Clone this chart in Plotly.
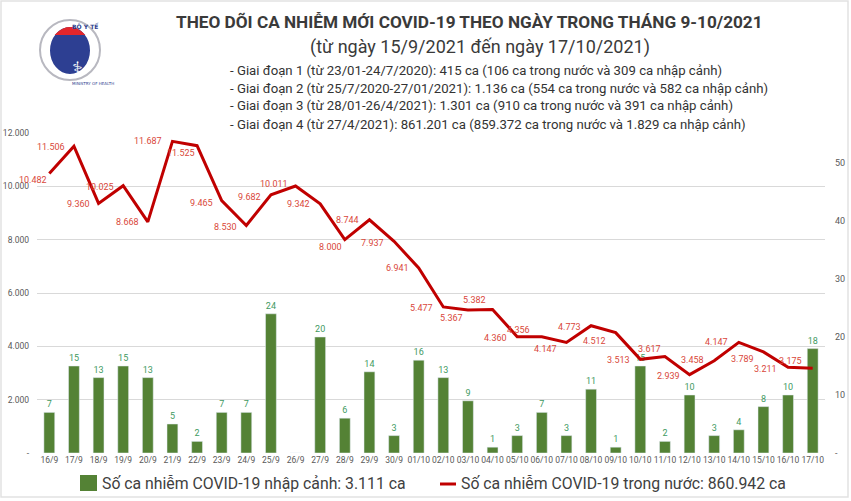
import math
import plotly.graph_objects as go

dates = ["16/9", "17/9", "18/9", "19/9", "20/9", "21/9", "22/9", "23/9", "24/9", "25/9", "26/9",
         "27/9", "28/9", "29/9", "30/9", "01/10", "02/10", "03/10", "04/10", "05/10", "06/10",
         "07/10", "08/10", "09/10", "10/10", "11/10", "12/10", "13/10", "14/10", "15/10", "16/10", "17/10"]
domestic = [10482, 11506, 9360, 10025, 8668, 11687, 11525, 9465, 8530, 9682, 10011,
            9342, 8000, 8744, 7937, 6941, 5477, 5367, 5382, 4360, 4356,
            4147, 4773, 4512, 3513, 3617, 2939, 3458, 4147, 3789, 3211, 3175]
imported = [7, 15, 13, 15, 13, 5, 2, 7, 7, 24, 0,
            20, 6, 14, 3, 16, 13, 9, 1, 3, 7,
            3, 11, 1, 15, 2, 10, 3, 4, 8, 10, 18]
left_ticks = [0, 2000, 4000, 6000, 8000, 10000, 12000]
left_ticktext = ["-", "2.000", "4.000", "6.000", "8.000", "10.000", "12.000"]
right_ticks = [0, 10, 20, 30, 40, 50]
right_ticktext = ["-", "10", "20", "30", "40", "50"]

title1 = "THEO DÕI CA NHIỄM MỚI COVID-19 THEO NGÀY TRONG THÁNG 9-10/2021"
title2 = "(từ ngày 15/9/2021 đến ngày 17/10/2021)"
bullets = [
    "- Giai đoạn 1 (từ 23/01-24/7/2020): 415 ca (106 ca trong nước và 309 ca nhập cảnh)",
    "- Giai đoạn 2 (từ 25/7/2020-27/01/2021): 1.136 ca (554 ca trong nước và 582 ca nhập cảnh)",
    "- Giai đoạn 3 (từ 28/01-26/4/2021): 1.301 ca (910 ca trong nước và 391 ca nhập cảnh)",
    "- Giai đoạn 4 (từ 27/4/2021): 861.201 ca (859.372 ca trong nước và 1.829 ca nhập cảnh)",
]
legend_bar = "Số ca nhiễm COVID-19 nhập cảnh: 3.111 ca"
legend_line = "Số ca nhiễm COVID-19 trong nước: 860.942 ca"

# label offsets (px) for line labels: (xshift of right edge, yshift up)
label_offsets = [(0, -7), (-7, -1), (-7, -1), (-7, -1), (-7, 0), (-8, 0), (0, -7), (-7, -2),
                 (-7, -1), (-8, -2), (-6, 2), (-8, 0), (-1, -7), (-8, 0), (-8, -2), (-8, 0),
                 (-8, -1), (-3, -8), (-5, 9), (-8, -1), (-10, 7), (-7, -7), (-8, -1), (-8, -8),
                 (-8, -1), (-2, 8), (-8, -1), (-8, 1), (-9, 0), (-7, -7), (-9, -2), (-9, 7)]

W, H = 851, 501
L, R, T, B = 37, 825, 133, 453
FONT = "Roboto, sans-serif"


def px(x):
    return (x - L) / (R - L)


def py(y):
    return (B - y) / (B - T)


def fmt(v):
    return f"{v:,}".replace(",", ".")


fig = go.Figure()
fig.add_trace(go.Bar(
    x=dates, y=imported, yaxis="y", marker=dict(color="#548235"), width=0.44,
    text=[str(v) if v else "" for v in imported], textposition="outside",
    textfont=dict(color="#3f9a62", size=9, family=FONT), cliponaxis=False,
    name=legend_bar,
))
fig.add_trace(go.Scatter(
    x=dates, y=domestic, yaxis="y2", mode="lines",
    line=dict(color="#c00000", width=3), name=legend_line,
))

ann = []
for i, (d, v) in enumerate(zip(dates, domestic)):
    dx, dy = label_offsets[i]
    ann.append(dict(x=d, y=v, xref="x", yref="y2", text=fmt(v), showarrow=False,
                    xanchor="right", yanchor="middle", xshift=dx, yshift=dy,
                    font=dict(color="#d9473a", size=9, family=FONT)))

ann.append(dict(x=px(469), y=py(22), xref="paper", yref="paper", text="<b>" + title1 + "</b>",
                showarrow=False, xanchor="center", yanchor="middle",
                font=dict(size=17.2, color="#3a3a3a", family=FONT)))
ann.append(dict(x=px(480), y=py(47), xref="paper", yref="paper", text=title2,
                showarrow=False, xanchor="center", yanchor="middle",
                font=dict(size=18, color="#3a3a3a", family=FONT)))
for k, b in enumerate(bullets):
    ann.append(dict(x=px(228), y=py(70 + 18 * k), xref="paper", yref="paper", text=b,
                    showarrow=False, xanchor="left", yanchor="middle",
                    font=dict(size=13.2, color="#333333", family=FONT)))
ann.append(dict(x=px(100), y=py(483), xref="paper", yref="paper", text=legend_bar,
                showarrow=False, xanchor="left", yanchor="middle",
                font=dict(size=15.8, color="#404040", family=FONT)))
ann.append(dict(x=px(459), y=py(483), xref="paper", yref="paper", text=legend_line,
                showarrow=False, xanchor="left", yanchor="middle",
                font=dict(size=15.8, color="#404040", family=FONT)))

# logo texts
ann.append(dict(x=px(70), y=py(20), xref="paper", yref="paper", text="<b>BỘ Y TẾ</b>",
                showarrow=False, font=dict(size=6, color="#2e3f8f", family="DejaVu Sans")))
ann.append(dict(x=px(70), y=py(55), xref="paper", yref="paper", text="⚕",
                showarrow=False, font=dict(size=20, color="white", family="DejaVu Sans")))
ann.append(dict(x=px(70), y=py(79), xref="paper", yref="paper", text="MINISTRY OF HEALTH",
                showarrow=False, font=dict(size=4, color="#2e3f8f", family="DejaVu Sans")))

shapes = []
# border
shapes.append(dict(type="rect", xref="paper", yref="paper", x0=px(1), x1=px(848), y0=py(1), y1=py(497),
                   line=dict(color="#e2e2e2", width=1.5), layer="below"))
# legend markers
shapes.append(dict(type="rect", xref="paper", yref="paper", x0=px(80), x1=px(97), y0=py(475), y1=py(491),
                   fillcolor="#548235", line=dict(width=0)))
shapes.append(dict(type="line", xref="paper", yref="paper", x0=px(440), x1=px(456), y0=py(484), y1=py(484),
                   line=dict(color="#c00000", width=3)))

# logo
cx, cy = 70, 50
shapes.append(dict(type="circle", xref="paper", yref="paper", x0=px(cx - 30), x1=px(cx + 30),
                   y0=py(cy - 30), y1=py(cy + 30), line=dict(color="#b8b8c0", width=2)))
shapes.append(dict(type="circle", xref="paper", yref="paper", x0=px(cx - 20), x1=px(cx + 20),
                   y0=py(cy - 23), y1=py(cy + 24), fillcolor="#2d3f92", line=dict(width=0)))
pts = []
for a in range(0, 181, 10):
    ang = math.radians(180 - a)
    pts.append((cx + 20 * math.cos(ang), cy + 0.5 - 23.5 * math.sin(ang)))
cut = 35
poly = [(x, min(y, cut)) for x, y in pts]
path = "M " + " L ".join(f"{px(x):.4f},{py(y):.4f}" for x, y in poly) + " Z"
shapes.append(dict(type="path", xref="paper", yref="paper", path=path, fillcolor="#e3262b",
                   line=dict(width=0)))

fig.update_layout(
    width=W, height=H,
    margin=dict(l=L, r=W - R, t=T, b=H - B, autoexpand=False),
    paper_bgcolor="white", plot_bgcolor="white",
    showlegend=False,
    font=dict(family=FONT, color="#595959"),
    xaxis=dict(type="category", range=[-0.5, 31.5], showgrid=False, ticks="", tickangle=0,
               automargin=False, tickfont=dict(size=8.5, color="#595959"),
               showline=False, zeroline=False),
    yaxis=dict(side="right", range=[0, (B - T) / 5.8], tickvals=right_ticks, ticktext=right_ticktext,
               showgrid=False, zeroline=False, ticks="", tickfont=dict(size=9, color="#595959"),
               ticklabelstandoff=9, automargin=False),
    yaxis2=dict(side="left", overlaying="y", range=[0, 12000], tickvals=left_ticks,
                ticktext=left_ticktext, showgrid=True, gridcolor="#d9d9d9", gridwidth=1,
                zeroline=False, ticks="", tickfont=dict(size=8.5, color="#595959"),
                ticklabelstandoff=7, automargin=False),
    annotations=ann, shapes=shapes,
)

fig.write_html("out.html", config={"displayModeBar": False},
               post_script="document.body.style.margin='0';document.body.style.overflow='hidden';")
